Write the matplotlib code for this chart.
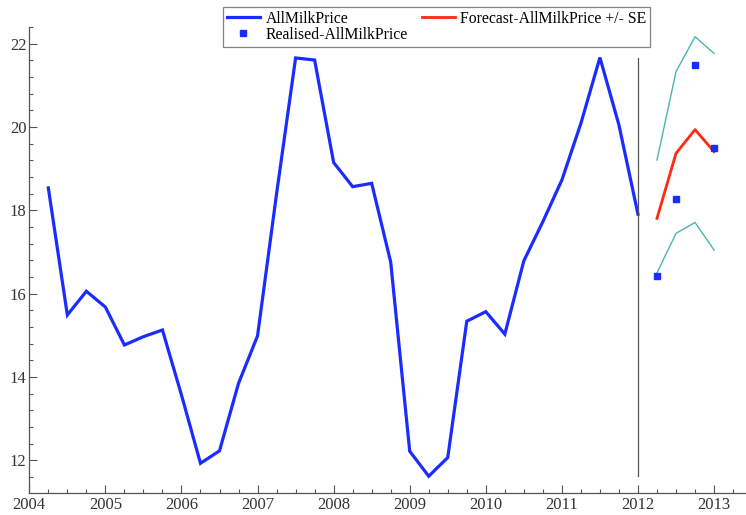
import matplotlib
matplotlib.use("Agg")
import matplotlib.pyplot as plt
from matplotlib.ticker import MultipleLocator
import numpy as np

# Quarterly data
hist_start = 2004.25
hist_values = [18.54, 15.49, 16.06, 15.68, 14.77, 14.97, 15.13, 13.57,
               11.93, 12.23, 13.85, 14.99, 18.40, 21.66, 21.61, 19.15,
               18.57, 18.65, 16.76, 12.22, 11.62, 12.07, 15.34, 15.57,
               15.03, 16.79, 17.73, 18.73, 20.09, 21.67, 20.05, 17.91]
fc_years = [2012.25, 2012.5, 2012.75, 2013.0]
fc_values = [17.81, 19.37, 19.94, 19.41]
fc_upper = [19.21, 21.33, 22.17, 21.77]
fc_lower = [16.50, 17.45, 17.71, 17.05]
realised = [16.42, 18.27, 21.50, 19.50]
split_year = 2012.0

hist_years = hist_start + 0.25 * np.arange(len(hist_values))

plt.rcParams['font.family'] = ['Liberation Serif', 'DejaVu Serif']

fig = plt.figure(figsize=(7.46, 5.15), dpi=100)
ax = fig.add_axes([29.3/746, (515-493.3)/515, 1 - 29.3/746, (493.3-26.7)/515])

l1, = ax.plot(hist_years, hist_values, color='#1a2cff', lw=2.3, solid_joinstyle='miter',
              label='AllMilkPrice')
l3, = ax.plot(fc_years, fc_values, color='#ff2a12', lw=2.0, label='Forecast-AllMilkPrice +/- SE')
ax.plot(fc_years, fc_upper, color='#4bb5b0', lw=1.0)
ax.plot(fc_years, fc_lower, color='#4bb5b0', lw=1.0)
l2, = ax.plot(fc_years, realised, ls='none', marker='s', ms=4.5, color='#1a2cff',
              label='Realised-AllMilkPrice')
ax.plot([split_year, split_year], [min(hist_values), max(hist_values)],
        color='#555555', lw=0.9)

ax.set_xlim(2004, 2013.42)
ax.set_ylim(11.21, 22.41)
ax.xaxis.set_major_locator(MultipleLocator(1))
ax.xaxis.set_minor_locator(MultipleLocator(0.25))
ax.yaxis.set_major_locator(MultipleLocator(2))
ax.yaxis.set_minor_locator(MultipleLocator(0.4))
ax.tick_params(which='both', direction='in', colors='#555555', labelcolor='#333333',
               labelsize=12, width=0.8)
ax.tick_params(which='major', length=6)
ax.tick_params(which='minor', length=3)
ax.xaxis.set_major_formatter(matplotlib.ticker.FuncFormatter(lambda v, p: f"{int(round(v))}"))
ax.yaxis.set_major_formatter(matplotlib.ticker.FuncFormatter(lambda v, p: f"{int(round(v))}"))
for s in ['top', 'right']:
    ax.spines[s].set_visible(False)
for s in ['left', 'bottom']:
    ax.spines[s].set_color('#555555')
    ax.spines[s].set_linewidth(0.9)
ax.tick_params(axis='y', pad=2)
ax.tick_params(axis='x', pad=3)

leg = fig.legend(handles=[l1, l2, l3], ncol=2, loc='upper left',
                 bbox_to_anchor=(223/746, 1 - 7/515), fontsize=11.3,
                 frameon=True, fancybox=False, edgecolor='#666666',
                 handlelength=2.1, handletextpad=0.35, columnspacing=0.9,
                 borderpad=0.25, labelspacing=0.0, borderaxespad=0.0)
leg.get_frame().set_linewidth(0.9)

fig.savefig('out.png', dpi=100)
